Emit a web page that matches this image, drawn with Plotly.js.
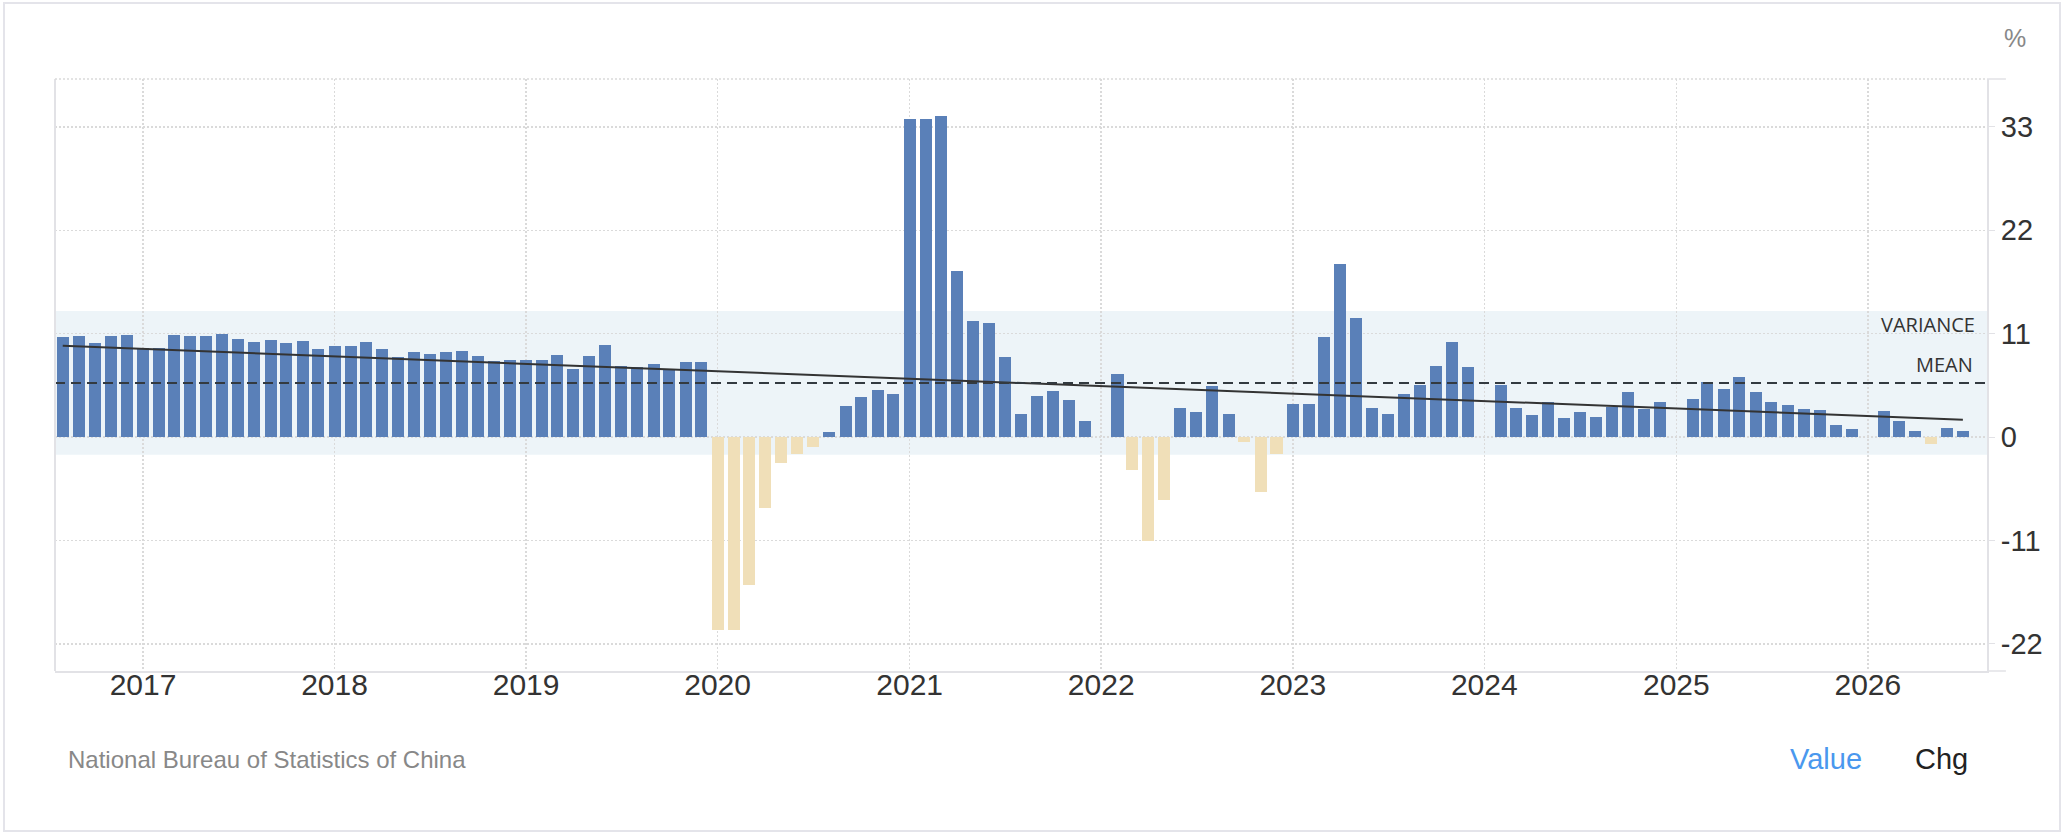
<!DOCTYPE html>
<html>
<head>
<meta charset="utf-8">
<script src="https://cdn.plot.ly/plotly-3.0.1.min.js"></script>
<style>
  body { margin: 0; background: #fff; }
  #chart { position: absolute; left: 0; top: 0; width: 2062px; height: 832px; }
  #frame { position: absolute; left: 3px; top: 2px; width: 2058px; height: 830px;
           box-sizing: border-box; border: 2px solid #e4e4ea; pointer-events: none; }
</style>
</head>
<body>
<div id="chart"></div>
<div id="frame"></div>
<script>
// China retail sales YoY (%), monthly. null = no January print
var firstMonth = [8, 1, 1, 1, 1, 1, 1, 1, 1, 1, 1];
var years = [2016, 2017, 2018, 2019, 2020, 2021, 2022, 2023, 2024, 2025, 2026];
var values2016 = [10.6, 10.7, 10.0, 10.8, 10.9];
var values2017 = [9.5, 9.5, 10.9, 10.7, 10.7, 11.0, 10.4, 10.1, 10.3, 10.0, 10.2, 9.4];
var values2018 = [9.7, 9.7, 10.1, 9.4, 8.5, 9.0, 8.8, 9.0, 9.2, 8.6, 8.1, 8.2];
var values2019 = [8.2, 8.2, 8.7, 7.2, 8.6, 9.8, 7.6, 7.5, 7.8, 7.2, 8.0, 8.0];
var values2020 = [-20.5, -20.5, -15.8, -7.5, -2.8, -1.8, -1.1, 0.5, 3.3, 4.3, 5.0, 4.6];
var values2021 = [33.8, 33.8, 34.2, 17.7, 12.4, 12.1, 8.5, 2.5, 4.4, 4.9, 3.9, 1.7];
var values2022 = [null, 6.7, -3.5, -11.1, -6.7, 3.1, 2.7, 5.4, 2.5, -0.5, -5.9, -1.8];
var values2023 = [3.5, 3.5, 10.6, 18.4, 12.7, 3.1, 2.5, 4.6, 5.5, 7.6, 10.1, 7.4];
var values2024 = [null, 5.5, 3.1, 2.3, 3.7, 2.0, 2.7, 2.1, 3.2, 4.8, 3.0, 3.7];
var values2025 = [null, 4.0, 5.9, 5.1, 6.4, 4.8, 3.7, 3.4, 3.0, 2.9, 1.3, 0.9];
var values2026 = [null, 2.8, 1.7, 0.6, -0.7, 1.0, 0.6];
var valuesByYear = [values2016, values2017, values2018, values2019, values2020, values2021,
                    values2022, values2023, values2024, values2025, values2026];

var yTicks = [-22, -11, 0, 11, 22, 33];
var meanValue = 5.75;
var varianceLow = -1.9;
var varianceHigh = 13.4;
var trendDates = ['2016-08-01', '2026-07-01'];
var trendValues = [9.7, 1.85];

var dates = [];
var values = [];
var colors = [];

for (var i = 0; i < years.length; i++) {
  var list = valuesByYear[i];
  for (var j = 0; j < list.length; j++) {
    var m = firstMonth[i] + j;
    dates.push(years[i] + '-' + (m < 10 ? '0' + m : m) + '-01');
    values.push(list[j]);
    if (list[j] !== null && list[j] < 0) {
      colors.push('#f0dfb8');
    } else {
      colors.push('#5a80b8');
    }
  } // end for
} // end for

var bars = {
  x: dates,
  y: values,
  type: 'bar',
  width: 1.98e9,
  marker: { color: colors, line: { width: 0 } },
  hoverinfo: 'skip'
};

var trend = {
  x: trendDates,
  y: trendValues,
  type: 'scatter',
  mode: 'lines',
  line: { color: '#333333', width: 2 },
  hoverinfo: 'skip'
};

var grey = '#e2e2e6';
var font = 'Liberation Sans, Arial, sans-serif';

var layout = {
  width: 2062,
  height: 832,
  margin: { l: 55, r: 75.3, t: 79, b: 161.3 },
  paper_bgcolor: '#ffffff',
  plot_bgcolor: 'rgba(0,0,0,0)',
  showlegend: false,
  bargap: 0,
  xaxis: {
    type: 'date',
    range: ['2016-07-17 06:00', '2026-08-16'],
    tick0: '2017-01-01',
    dtick: 'M12',
    tickformat: '%Y',
    showgrid: true,
    gridcolor: '#dadada',
    gridwidth: 1.5,
    griddash: '2px,2px',
    showline: true,
    linecolor: grey,
    linewidth: 2,
    ticks: '',
    ticklabelstandoff: -14,
    tickfont: { family: font, size: 30, color: '#333333' },
    zeroline: false,
    fixedrange: true
  },
  yaxis: {
    side: 'right',
    range: [-24.9, 38.1],
    tickvals: yTicks,
    ticktext: yTicks.map(String),
    showgrid: true,
    gridcolor: '#dadada',
    gridwidth: 1.5,
    griddash: '2px,2px',
    zeroline: false,
    showline: true,
    linecolor: grey,
    linewidth: 2,
    ticks: 'outside',
    ticklen: 6,
    tickcolor: grey,
    tickwidth: 1,
    tickfont: { family: font, size: 29, color: '#333333' },
    fixedrange: true
  },
  shapes: [
    // variance band
    { type: 'rect', xref: 'paper', yref: 'y', x0: 0, x1: 1, y0: varianceLow, y1: varianceHigh,
      fillcolor: '#edf4f8', line: { width: 0 }, layer: 'below' },
    // mean
    { type: 'line', xref: 'paper', yref: 'y', x0: 0, x1: 1, y0: meanValue, y1: meanValue,
      line: { color: '#333a40', width: 2, dash: '10px,6px' }, layer: 'above' },
    // left border of the plot
    { type: 'line', xref: 'paper', yref: 'paper', x0: 0, x1: 0, y0: 0, y1: 1,
      line: { color: grey, width: 2 } },
    // top edge, dotted
    { type: 'line', xref: 'paper', yref: 'paper', x0: 0, x1: 1, y0: 1, y1: 1,
      line: { color: '#dadada', width: 1.5, dash: '2px,2px' } },
    // little stubs right of the value axis
    { type: 'line', xref: 'paper', yref: 'paper', x0: 1, x1: 1.0098, y0: 1, y1: 1,
      line: { color: grey, width: 1.5 } },
    { type: 'line', xref: 'paper', yref: 'paper', x0: 1, x1: 1.0098, y0: 0, y1: 0,
      line: { color: grey, width: 1.5 } }
  ],
  annotations: [
    { text: 'VARIANCE', xref: 'paper', yref: 'paper', x: 0.9948, y: 0.5851,
      xanchor: 'right', yanchor: 'middle', showarrow: false,
      font: { family: 'Open Sans, sans-serif', size: 20, color: '#333333' } },
    { text: 'MEAN', xref: 'paper', yref: 'paper', x: 0.9940, y: 0.5175,
      xanchor: 'right', yanchor: 'middle', showarrow: false,
      font: { family: 'Open Sans, sans-serif', size: 20, color: '#333333' } },
    { text: '%', xref: 'paper', yref: 'paper', x: 1.0147, y: 1.0701,
      xanchor: 'center', yanchor: 'middle', showarrow: false,
      font: { family: font, size: 25, color: '#888888' } },
    { text: 'National Bureau of Statistics of China', xref: 'paper', yref: 'paper',
      x: 0.0057, y: -0.1501, xanchor: 'left', yanchor: 'middle', showarrow: false,
      font: { family: font, size: 24, color: '#888888' } },
    { text: 'Value', xref: 'paper', yref: 'paper', x: 0.9166, y: -0.1487,
      xanchor: 'center', yanchor: 'middle', showarrow: false,
      font: { family: font, size: 29, color: '#4a98ee' } },
    { text: 'Chg', xref: 'paper', yref: 'paper', x: 0.9765, y: -0.1487,
      xanchor: 'center', yanchor: 'middle', showarrow: false,
      font: { family: font, size: 29, color: '#222222' } }
  ]
};

Plotly.newPlot('chart', [bars, trend], layout, { staticPlot: true, displayModeBar: false });
</script>
</body>
</html>
